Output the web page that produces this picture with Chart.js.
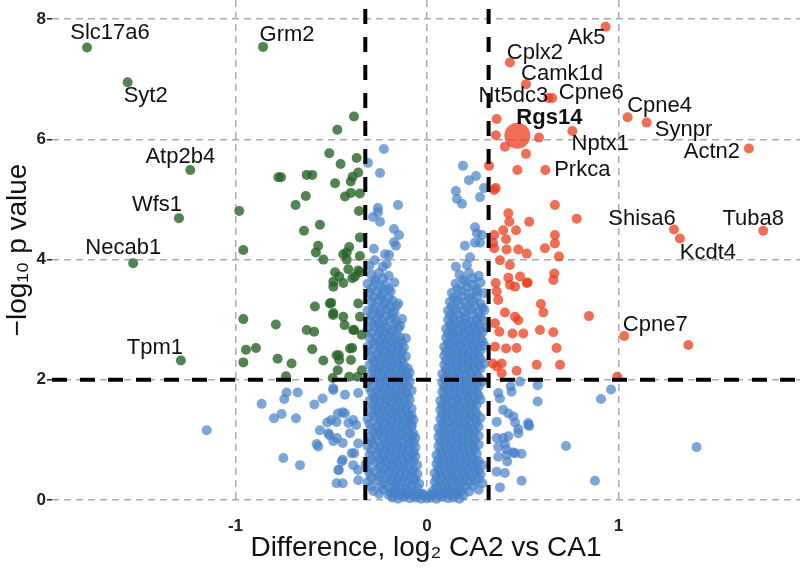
<!DOCTYPE html>
<html>
<head>
<meta charset="utf-8">
<script src="https://cdn.jsdelivr.net/npm/chart.js@4.4.1/dist/chart.umd.min.js"></script>
<style>
  html, body { margin: 0; padding: 0; background: #fff; }
</style>
</head>
<body>
<canvas id="volcano" width="800" height="574"></canvas>
<script>
// axis setup
const xTicks = [-1, 0, 1];
const yTicks = [0, 2, 4, 6, 8];
const xRange = [-1.958, 1.948];
const yRange = [0, 8.32];
const foldCut = 0.322;
const pCut = 2;

// labelled genes
const downGenes = ["Slc17a6", "Grm2", "Syt2", "Atp2b4", "Wfs1", "Necab1", "Tpm1"];
const downGeneX = [-1.775, -0.856, -1.563, -1.236, -1.295, -1.534, -1.285];
const downGeneY = [7.53, 7.54, 6.95, 5.49, 4.69, 3.94, 2.32];

const upGenes = ["Ak5", "Cplx2", "Camk1d", "Nt5dc3", "Cpne6", "Rgs14", "Cpne4", "Synpr",
                 "Actn2", "Nptx1", "Prkca", "Shisa6", "Kcdt4", "Tuba8", "Cpne7"];
const upGeneX = [0.933, 0.433, 0.517, 0.634, 0.654, 0.472, 1.048, 1.147,
                 1.681, 0.759, 0.618, 1.29, 1.321, 1.756, 1.030];
const upGeneY = [7.875, 7.28, 6.92, 6.69, 6.69, 6.06, 6.37, 6.28,
                 5.85, 6.14, 5.49, 4.50, 4.35, 4.48, 2.73];

// other significant genes, [log2 diff, -log10 p]
const downOther = [
  [-0.381,6.38],[-0.468,6.16],[-0.510,5.77],[-0.367,5.69],[-0.451,5.59],[-0.776,5.37],[-0.762,5.37],
  [-0.628,5.41],[-0.599,5.41],[-0.388,5.38],[-0.359,5.45],[-0.480,5.27],[-0.398,5.30],[-0.633,5.06],
  [-0.428,5.05],[-0.397,5.11],[-0.350,5.10],[-0.686,4.91],[-0.980,4.81],[-0.355,4.81],[-0.559,4.58],
  [-0.642,4.48],[-0.350,4.37],[-0.568,4.23],[-0.406,4.21],[-0.959,4.16],[-0.580,4.12],[-0.419,4.12],
  [-0.350,4.06],[-0.541,4.00],[-0.437,4.09],[-0.419,4.00],[-0.411,3.84],[-0.359,3.82],[-0.376,3.72],
  [-0.458,3.72],[-0.437,3.61],[-0.489,3.55],[-0.489,3.63],[-0.48,3.79],[-0.39,3.69],[-0.35,3.79],
  [-0.50,3.28],[-0.49,3.08],[-0.43,2.91],[-0.38,2.83],[-0.39,2.53],[-0.46,2.41],[-0.34,2.16],
  [-0.585,3.22],[-0.507,3.27],[-0.489,3.11],[-0.437,3.05],[-0.359,3.27],[-0.350,3.05],[-0.385,2.83],
  [-0.341,2.75],[-0.959,3.01],[-0.789,2.92],[-0.628,2.83],[-0.589,2.80],[-0.945,2.50],[-0.893,2.53],
  [-0.599,2.51],[-0.402,2.52],[-0.472,2.41],[-0.959,2.29],[-0.780,2.35],[-0.707,2.27],[-0.541,2.32],
  [-0.458,2.33],[-0.397,2.33],[-0.466,2.16],[-0.736,2.06],[-0.492,2.03],[-0.406,2.05],[-0.362,2.05]
];

const upOther = [
  [0.364,6.34],[0.360,6.07],[0.407,5.88],[0.517,5.76],[0.585,6.03],[0.324,5.56],[0.472,5.49],[0.359,5.19],
  [0.35,5.16],[0.668,4.91],[0.782,4.68],[0.425,4.77],[0.430,4.63],[0.534,4.63],[0.398,4.49],[0.465,4.49],
  [0.351,4.41],[0.345,4.28],[0.413,4.34],[0.668,4.41],[0.668,4.27],[0.616,4.19],[0.477,4.17],[0.416,4.17],
  [0.351,4.19],[0.521,4.10],[0.689,4.05],[0.381,3.99],[0.433,3.91],[0.486,3.72],[0.425,3.70],[0.665,3.77],
  [0.660,3.66],[0.359,3.61],[0.526,3.62],[0.46,3.55],[0.364,3.47],[0.372,3.33],[0.433,3.58],[0.521,3.61],
  [0.595,3.26],[0.608,3.12],[0.407,3.12],[0.460,3.05],[0.477,2.99],[0.846,3.06],[0.355,2.94],[0.378,2.80],
  [0.447,2.77],[0.503,2.77],[0.590,2.83],[0.660,2.79],[0.355,2.55],[0.413,2.52],[0.468,2.53],[0.677,2.53],
  [0.343,2.27],[0.390,2.27],[0.364,2.22],[0.468,2.15],[0.573,2.25],[0.695,2.25],[0.390,2.11],[1.365,2.58],
  [0.994,2.05]
];

// not significant genes
const notSig = [
  // sparse, upper part
  [-0.225,5.84],[-0.308,5.61],[-0.245,5.44],[-0.151,4.91],[-0.256,4.86],[-0.256,4.79],[-0.282,4.71],
  [-0.245,4.63],[-0.172,4.51],[-0.146,4.41],[-0.172,4.29],[-0.162,4.23],[-0.277,4.18],[-0.219,4.09],
  [-0.198,4.08],[-0.272,3.99],[-0.230,3.88],
  [0.188,5.56],[0.256,5.39],[0.219,5.32],[0.298,5.19],[0.151,5.14],[0.157,5.01],[0.183,4.93],[0.277,5.04],
  [0.251,4.54],[0.261,4.44],[0.287,4.41],[0.277,4.28],[0.198,4.23],[0.251,4.28],[0.225,4.04],[0.151,3.88],
  [0.209,3.91],
  // outer scatter, left
  [-1.150,1.16],[-0.863,1.60],[-0.799,1.36],[-0.759,1.43],[-0.733,1.79],[-0.745,1.68],[-0.675,1.79],
  [-0.684,1.36],[-0.750,0.70],[-0.663,0.58],[-0.588,1.59],[-0.545,1.69],[-0.489,1.83],[-0.559,1.16],
  [-0.521,1.29],[-0.510,1.08],[-0.576,0.93],[-0.568,0.89],[-0.489,0.98],[-0.463,0.50],[-0.472,0.28],
  [-0.465,1.44],[-0.472,1.30],[-0.445,0.64],[-0.515,1.11],[-0.428,1.44],[-0.402,1.11],[-0.385,1.33],
  [-0.359,1.78],[-0.428,1.75],[-0.393,0.78],[-0.385,0.58],[-0.359,0.33],[-0.359,0.94],[-0.49,1.86],
  [-0.44,1.46],[-0.41,1.28],[-0.47,1.03],[-0.44,0.95],[-0.44,0.67],[-0.46,0.50],[-0.44,0.28],
  [-0.38,0.78],[-0.36,0.50],[-0.37,1.25],[-0.50,1.33],
  // outer scatter, right
  [0.578,1.91],[0.578,1.64],[0.909,1.68],[0.961,1.84],[0.726,0.90],[1.408,0.88],[0.877,0.32],[0.494,0.32],
  [0.381,0.21],[0.407,0.45],[0.364,0.47],[0.494,0.77],[0.419,0.64],[0.416,0.75],[0.451,0.79],[0.416,0.84],
  [0.372,0.88],[0.407,0.93],[0.364,1.03],[0.398,1.03],[0.425,1.06],[0.477,1.11],[0.477,1.18],[0.529,1.28],
  [0.534,1.23],[0.460,1.29],[0.451,1.39],[0.425,1.44],[0.398,1.50],[0.364,1.30],[0.381,1.69],[0.372,1.78],
  [0.442,1.80],[0.437,1.89],[0.486,1.97],[0.529,1.25],[0.460,0.78],[0.372,0.72],
  // left arm
  [-0.18,0.04],[-0.15,0.02],[-0.12,0.05],[-0.09,0.03],[-0.06,0.04],[-0.03,0.02],[0.00,0.03],
  [-0.28,0.15],[-0.23,0.18],[-0.19,0.13],[-0.16,0.17],[-0.13,0.12],[-0.10,0.16],[-0.07,0.14],[-0.04,0.11],
  [-0.31,0.30],[-0.26,0.33],[-0.22,0.28],[-0.19,0.32],[-0.16,0.27],[-0.13,0.31],[-0.10,0.29],[-0.07,0.32],[-0.04,0.27],
  [-0.30,0.45],[-0.27,0.48],[-0.23,0.43],[-0.20,0.47],[-0.17,0.42],[-0.14,0.46],[-0.11,0.44],[-0.08,0.47],[-0.05,0.43],
  [-0.32,0.60],[-0.27,0.63],[-0.24,0.58],[-0.21,0.62],[-0.18,0.57],[-0.15,0.61],[-0.12,0.59],[-0.09,0.62],[-0.05,0.58],
  [-0.30,0.75],[-0.26,0.78],[-0.23,0.73],[-0.20,0.77],[-0.17,0.72],[-0.14,0.76],[-0.11,0.74],[-0.08,0.77],[-0.06,0.73],
  [-0.31,0.90],[-0.28,0.93],[-0.24,0.88],[-0.21,0.92],[-0.18,0.87],[-0.15,0.91],[-0.12,0.89],[-0.09,0.92],[-0.06,0.88],
  [-0.30,1.05],[-0.26,1.08],[-0.23,1.03],[-0.20,1.07],[-0.17,1.02],[-0.14,1.06],[-0.11,1.04],[-0.08,1.07],[-0.06,1.03],
  [-0.29,1.20],[-0.26,1.23],[-0.23,1.18],[-0.20,1.22],[-0.17,1.17],[-0.14,1.21],[-0.11,1.19],[-0.08,1.22],
  [-0.31,1.35],[-0.27,1.38],[-0.24,1.33],[-0.21,1.37],[-0.18,1.32],[-0.15,1.36],[-0.12,1.34],[-0.09,1.37],[-0.07,1.33],
  [-0.29,1.50],[-0.26,1.53],[-0.23,1.48],[-0.20,1.52],[-0.17,1.47],[-0.14,1.51],[-0.11,1.49],[-0.08,1.52],
  [-0.30,1.65],[-0.27,1.68],[-0.24,1.63],[-0.21,1.67],[-0.18,1.62],[-0.15,1.66],[-0.12,1.64],[-0.09,1.67],
  [-0.29,1.80],[-0.26,1.83],[-0.23,1.78],[-0.20,1.82],[-0.17,1.77],[-0.14,1.81],[-0.11,1.79],[-0.08,1.82],
  [-0.31,1.95],[-0.27,1.98],[-0.24,1.93],[-0.21,1.97],[-0.18,1.92],[-0.15,1.96],[-0.12,1.94],[-0.09,1.97],
  [-0.29,2.10],[-0.26,2.13],[-0.23,2.08],[-0.20,2.12],[-0.17,2.07],[-0.14,2.11],[-0.11,2.09],[-0.09,2.12],
  [-0.30,2.25],[-0.27,2.28],[-0.24,2.23],[-0.21,2.27],[-0.18,2.22],[-0.15,2.26],[-0.12,2.24],
  [-0.29,2.40],[-0.26,2.43],[-0.23,2.38],[-0.20,2.42],[-0.17,2.37],[-0.14,2.41],[-0.11,2.39],
  [-0.31,2.55],[-0.27,2.58],[-0.24,2.53],[-0.21,2.57],[-0.18,2.52],[-0.15,2.56],[-0.12,2.54],
  [-0.30,2.70],[-0.26,2.73],[-0.23,2.68],[-0.20,2.72],[-0.17,2.67],[-0.14,2.71],[-0.11,2.69],
  [-0.31,2.85],[-0.27,2.88],[-0.24,2.83],[-0.21,2.87],[-0.18,2.82],[-0.15,2.86],
  [-0.30,3.00],[-0.26,3.03],[-0.23,2.98],[-0.19,3.02],[-0.16,2.97],[-0.13,3.01],
  [-0.31,3.15],[-0.28,3.18],[-0.24,3.13],[-0.21,3.17],[-0.17,3.12],
  [-0.29,3.30],[-0.25,3.33],[-0.22,3.28],[-0.18,3.32],[-0.15,3.27],
  [-0.30,3.45],[-0.26,3.48],[-0.23,3.43],[-0.19,3.47],
  [-0.31,3.60],[-0.27,3.63],[-0.22,3.58],[-0.17,3.62],
  [-0.29,3.75],[-0.25,3.78],[-0.20,3.73],
  [-0.30,3.90],[-0.21,3.93],
  // left arm, in-between rows
  [-0.25,0.10],[-0.20,0.09],[-0.17,0.11],[-0.14,0.08],[-0.11,0.10],[-0.08,0.09],[-0.05,0.07],[-0.02,0.10],
  [-0.29,0.22],[-0.24,0.24],[-0.20,0.21],[-0.17,0.23],[-0.14,0.20],[-0.11,0.22],[-0.08,0.24],[-0.05,0.20],
  [-0.29,0.37],[-0.25,0.39],[-0.21,0.36],[-0.18,0.38],[-0.15,0.35],[-0.12,0.37],[-0.09,0.39],[-0.06,0.35],
  [-0.31,0.52],[-0.25,0.54],[-0.22,0.51],[-0.19,0.53],[-0.16,0.50],[-0.13,0.52],[-0.10,0.54],[-0.07,0.50],
  [-0.29,0.67],[-0.25,0.69],[-0.22,0.66],[-0.19,0.68],[-0.16,0.65],[-0.13,0.67],[-0.10,0.69],[-0.07,0.65],
  [-0.29,0.82],[-0.25,0.84],[-0.22,0.81],[-0.19,0.83],[-0.16,0.80],[-0.13,0.82],[-0.10,0.84],[-0.07,0.80],
  [-0.29,0.97],[-0.26,0.99],[-0.22,0.96],[-0.19,0.98],[-0.16,0.95],[-0.13,0.97],[-0.10,0.99],[-0.07,0.95],
  [-0.28,1.12],[-0.25,1.14],[-0.22,1.11],[-0.19,1.13],[-0.16,1.10],[-0.13,1.12],[-0.10,1.14],[-0.07,1.10],
  [-0.30,1.27],[-0.25,1.29],[-0.22,1.26],[-0.19,1.28],[-0.16,1.25],[-0.13,1.27],[-0.10,1.29],[-0.08,1.25],
  [-0.28,1.42],[-0.25,1.44],[-0.22,1.41],[-0.19,1.43],[-0.16,1.40],[-0.13,1.42],[-0.10,1.44],[-0.08,1.40],
  [-0.28,1.57],[-0.25,1.59],[-0.22,1.56],[-0.19,1.58],[-0.16,1.55],[-0.13,1.57],[-0.10,1.59],
  [-0.28,1.72],[-0.25,1.74],[-0.22,1.71],[-0.19,1.73],[-0.16,1.70],[-0.13,1.72],[-0.10,1.74],
  [-0.30,1.87],[-0.25,1.89],[-0.22,1.86],[-0.19,1.88],[-0.16,1.85],[-0.13,1.87],[-0.10,1.89],
  [-0.28,2.02],[-0.25,2.04],[-0.22,2.01],[-0.19,2.03],[-0.16,2.00],[-0.13,2.02],[-0.10,2.04],
  [-0.28,2.17],[-0.25,2.19],[-0.22,2.16],[-0.19,2.18],[-0.16,2.15],[-0.13,2.17],[-0.10,2.19],
  [-0.28,2.32],[-0.25,2.34],[-0.22,2.31],[-0.19,2.33],[-0.16,2.30],[-0.13,2.32],
  [-0.30,2.47],[-0.25,2.49],[-0.22,2.46],[-0.19,2.48],[-0.16,2.45],[-0.13,2.47],
  [-0.28,2.62],[-0.25,2.64],[-0.22,2.61],[-0.19,2.63],[-0.16,2.60],[-0.13,2.62],
  [-0.29,2.77],[-0.25,2.79],[-0.22,2.76],[-0.19,2.78],[-0.16,2.75],
  [-0.28,2.92],[-0.25,2.94],[-0.22,2.91],[-0.17,2.93],[-0.14,2.90],
  [-0.29,3.07],[-0.25,3.09],[-0.21,3.06],[-0.18,3.08],
  [-0.27,3.22],[-0.23,3.24],[-0.19,3.21],[-0.16,3.23],
  [-0.28,3.37],[-0.24,3.39],[-0.20,3.36],
  [-0.29,3.52],[-0.24,3.54],[-0.20,3.51],
  [-0.27,3.67],[-0.23,3.69],
  // right arm
  [0.02,0.04],[0.05,0.02],[0.08,0.05],[0.11,0.03],[0.14,0.04],[0.17,0.02],[-0.02,0.08],[0.02,0.09],
  [0.03,0.15],[0.06,0.18],[0.09,0.13],[0.12,0.17],[0.15,0.12],[0.18,0.16],[0.22,0.14],[0.27,0.17],
  [0.04,0.30],[0.07,0.33],[0.10,0.28],[0.13,0.32],[0.16,0.27],[0.19,0.31],[0.22,0.29],[0.25,0.32],[0.29,0.28],
  [0.04,0.45],[0.07,0.48],[0.10,0.43],[0.13,0.47],[0.16,0.42],[0.19,0.46],[0.22,0.44],[0.25,0.47],[0.28,0.43],
  [0.05,0.60],[0.08,0.63],[0.11,0.58],[0.14,0.62],[0.17,0.57],[0.20,0.61],[0.23,0.59],[0.26,0.62],[0.29,0.58],
  [0.05,0.75],[0.08,0.78],[0.11,0.73],[0.14,0.77],[0.17,0.72],[0.20,0.76],[0.23,0.74],[0.26,0.77],
  [0.06,0.90],[0.09,0.93],[0.12,0.88],[0.15,0.92],[0.18,0.87],[0.21,0.91],[0.24,0.89],[0.27,0.92],
  [0.06,1.05],[0.09,1.08],[0.12,1.03],[0.15,1.07],[0.18,1.02],[0.21,1.06],[0.24,1.04],[0.27,1.07],
  [0.06,1.20],[0.09,1.23],[0.12,1.18],[0.15,1.22],[0.18,1.17],[0.21,1.21],[0.24,1.19],[0.27,1.22],
  [0.07,1.35],[0.10,1.38],[0.13,1.33],[0.16,1.37],[0.19,1.32],[0.22,1.36],[0.25,1.34],[0.28,1.37],
  [0.07,1.50],[0.10,1.53],[0.13,1.48],[0.16,1.52],[0.19,1.47],[0.22,1.51],[0.25,1.49],
  [0.07,1.65],[0.10,1.68],[0.13,1.63],[0.16,1.67],[0.19,1.62],[0.22,1.66],[0.25,1.64],[0.28,1.67],
  [0.08,1.80],[0.11,1.83],[0.14,1.78],[0.17,1.82],[0.20,1.77],[0.23,1.81],[0.26,1.79],
  [0.08,1.95],[0.11,1.98],[0.14,1.93],[0.17,1.97],[0.20,1.92],[0.23,1.96],[0.26,1.94],[0.29,1.97],
  [0.08,2.10],[0.11,2.13],[0.14,2.08],[0.17,2.12],[0.20,2.07],[0.23,2.11],[0.26,2.09],
  [0.09,2.25],[0.12,2.28],[0.15,2.23],[0.18,2.27],[0.21,2.22],[0.24,2.26],[0.27,2.24],[0.30,2.27],
  [0.09,2.40],[0.12,2.43],[0.15,2.38],[0.18,2.42],[0.21,2.37],[0.24,2.41],[0.27,2.39],
  [0.09,2.55],[0.12,2.58],[0.15,2.53],[0.18,2.57],[0.21,2.52],[0.24,2.56],[0.27,2.54],[0.30,2.57],
  [0.10,2.70],[0.13,2.73],[0.16,2.68],[0.19,2.72],[0.22,2.67],[0.25,2.71],[0.28,2.69],
  [0.10,2.85],[0.13,2.88],[0.16,2.83],[0.19,2.87],[0.22,2.82],[0.25,2.86],[0.28,2.84],[0.31,2.87],
  [0.11,3.00],[0.14,3.03],[0.17,2.98],[0.20,3.02],[0.23,2.97],[0.26,3.01],[0.29,2.99],
  [0.11,3.15],[0.15,3.18],[0.19,3.13],[0.23,3.17],[0.27,3.12],[0.30,3.16],
  [0.12,3.30],[0.16,3.33],[0.20,3.28],[0.24,3.32],[0.28,3.27],
  [0.13,3.45],[0.18,3.48],[0.22,3.43],[0.26,3.47],[0.30,3.44],
  [0.15,3.60],[0.20,3.63],[0.24,3.58],[0.28,3.62],
  [0.17,3.75],[0.22,3.78],[0.27,3.73],
  // right arm, in-between rows
  [0.04,0.10],[0.07,0.08],[0.10,0.11],[0.13,0.09],[0.16,0.10],[0.19,0.08],
  [0.05,0.22],[0.08,0.24],[0.11,0.21],[0.14,0.23],[0.17,0.20],[0.20,0.22],[0.24,0.24],
  [0.05,0.37],[0.08,0.39],[0.11,0.36],[0.14,0.38],[0.17,0.35],[0.20,0.37],[0.23,0.39],[0.27,0.35],
  [0.06,0.52],[0.09,0.54],[0.12,0.51],[0.15,0.53],[0.18,0.50],[0.21,0.52],[0.24,0.54],[0.27,0.50],
  [0.06,0.67],[0.09,0.69],[0.12,0.66],[0.15,0.68],[0.18,0.65],[0.21,0.67],[0.24,0.69],[0.27,0.65],
  [0.07,0.82],[0.10,0.84],[0.13,0.81],[0.16,0.83],[0.19,0.80],[0.22,0.82],[0.25,0.84],
  [0.07,0.97],[0.10,0.99],[0.13,0.96],[0.16,0.98],[0.19,0.95],[0.22,0.97],[0.25,0.99],
  [0.07,1.12],[0.10,1.14],[0.13,1.11],[0.16,1.13],[0.19,1.10],[0.22,1.12],[0.25,1.14],
  [0.08,1.27],[0.11,1.29],[0.14,1.26],[0.17,1.28],[0.20,1.25],[0.23,1.27],[0.26,1.29],
  [0.08,1.42],[0.11,1.44],[0.14,1.41],[0.17,1.43],[0.20,1.40],[0.23,1.42],[0.26,1.44],
  [0.08,1.57],[0.11,1.59],[0.14,1.56],[0.17,1.58],[0.20,1.55],[0.23,1.57],[0.26,1.59],
  [0.09,1.72],[0.12,1.74],[0.15,1.71],[0.18,1.73],[0.21,1.70],[0.24,1.72],[0.27,1.74],
  [0.09,1.87],[0.12,1.89],[0.15,1.86],[0.18,1.88],[0.21,1.85],[0.24,1.87],[0.27,1.89],
  [0.09,2.02],[0.12,2.04],[0.15,2.01],[0.18,2.03],[0.21,2.00],[0.24,2.02],[0.27,2.04],
  [0.10,2.17],[0.13,2.19],[0.16,2.16],[0.19,2.18],[0.22,2.15],[0.25,2.17],[0.28,2.19],
  [0.10,2.32],[0.13,2.34],[0.16,2.31],[0.19,2.33],[0.22,2.30],[0.25,2.32],[0.28,2.34],
  [0.10,2.47],[0.13,2.49],[0.16,2.46],[0.19,2.48],[0.22,2.45],[0.25,2.47],[0.28,2.49],
  [0.11,2.62],[0.14,2.64],[0.17,2.61],[0.20,2.63],[0.23,2.60],[0.26,2.62],[0.29,2.64],
  [0.11,2.77],[0.14,2.79],[0.17,2.76],[0.20,2.78],[0.23,2.75],[0.26,2.77],[0.29,2.79],
  [0.12,2.92],[0.15,2.94],[0.18,2.91],[0.21,2.93],[0.24,2.90],[0.27,2.92],
  [0.12,3.07],[0.16,3.09],[0.20,3.06],[0.24,3.08],[0.28,3.05],
  [0.13,3.22],[0.17,3.24],[0.21,3.21],[0.25,3.23],[0.29,3.20],
  [0.14,3.37],[0.18,3.39],[0.22,3.36],[0.26,3.38],
  [0.16,3.52],[0.21,3.54],[0.26,3.51],
  [0.19,3.67],[0.24,3.69]
];

// label placement (pixel offset of text centre from its point)
const labelOffset = {
  Slc17a6: [23, -15], Grm2: [24, -12], Syt2: [18, 14], Atp2b4: [-10, -13], Wfs1: [-22, -13],
  Necab1: [-10, -15], Tpm1: [-26, -13], Ak5: [-19, 11], Cplx2: [25, -10], Camk1d: [36, -10],
  Nt5dc3: [-35, -2], Cpne6: [39, -5], Rgs14: [32, -18], Cpne4: [32, -11], Synpr: [37, 7],
  Actn2: [-37, 3], Nptx1: [28, 13], Prkca: [37, 0], Shisa6: [-32, -11], Kcdt4: [28, 14],
  Tuba8: [-10, -12], Cpne7: [31, -11]
};

const FONT = '"Liberation Sans", Arial, Helvetica, sans-serif';
Chart.defaults.font.family = FONT;
Chart.defaults.color = '#111';

const pairs = arr => arr.map(([x, y]) => ({ x, y }));
const named = (names, xs, ys) => names.map((n, i) => ({ x: xs[i], y: ys[i], gene: n }));

const geneLabels = {
  id: 'geneLabels',
  afterDatasetsDraw(chart) {
    const { ctx, scales: { x, y } } = chart;
    ctx.save();
    ctx.textAlign = 'center';
    ctx.textBaseline = 'middle';
    ctx.fillStyle = '#111';
    const draw = (names, xs, ys) => names.forEach((n, i) => {
      const off = labelOffset[n];
      ctx.font = (n === 'Rgs14' ? 'bold ' : '') + '22px ' + FONT;
      ctx.fillText(n, x.getPixelForValue(xs[i]) + off[0], y.getPixelForValue(ys[i]) + off[1]);
    });
    draw(downGenes, downGeneX, downGeneY);
    draw(upGenes, upGeneX, upGeneY);
    ctx.restore();
  }
};

const cutLine = (data) => ({
  type: 'line', data, borderColor: '#000', borderWidth: 4, borderDash: [15, 13],
  pointRadius: 0, fill: false, order: 0, clip: false
});

new Chart(document.getElementById('volcano'), {
  type: 'scatter',
  data: {
    datasets: [
      cutLine([{ x: -foldCut, y: yRange[0] }, { x: -foldCut, y: yRange[1] }]),
      cutLine([{ x: foldCut, y: yRange[0] }, { x: foldCut, y: yRange[1] }]),
      cutLine([{ x: xRange[0], y: pCut }, { x: xRange[1], y: pCut }]),
      {
        label: 'not significant', data: pairs(notSig),
        backgroundColor: 'rgba(70,128,200,0.7)', pointRadius: 5, borderWidth: 0, order: 3, clip: false
      },
      {
        label: 'CA1 enriched', data: pairs(downOther).concat(named(downGenes, downGeneX, downGeneY)),
        backgroundColor: 'rgba(40,100,40,0.8)', pointRadius: 5, borderWidth: 0, order: 2, clip: false
      },
      {
        label: 'CA2 enriched', data: pairs(upOther).concat(named(upGenes, upGeneX, upGeneY)),
        backgroundColor: 'rgba(235,60,30,0.75)', borderWidth: 0, order: 1, clip: false,
        pointRadius: c => (c.raw && c.raw.gene === 'Rgs14' ? 13 : 5)
      }
    ]
  },
  options: {
    responsive: false,
    animation: false,
    layout: { padding: 0, autoPadding: false },
    plugins: { legend: { display: false }, tooltip: { enabled: false } },
    scales: {
      x: {
        type: 'linear', min: xRange[0], max: xRange[1],
        afterBuildTicks: s => { s.ticks = xTicks.map(v => ({ value: v })); },
        afterFit: s => { s.height = 74; },
        grid: { color: '#aaa', lineWidth: 1.5, drawTicks: false },
        border: { display: false, dash: [7, 5] },
        ticks: { font: { size: 17, weight: 'bold' }, color: '#222', padding: 16, maxRotation: 0 },
        title: {
          display: true, text: 'Difference, log\u2082 CA2 vs CA1',
          font: { size: 28, lineHeight: 1.2 }, color: '#111', padding: { top: 0, bottom: 9 }
        }
      },
      y: {
        type: 'linear', min: yRange[0], max: yRange[1],
        afterBuildTicks: s => { s.ticks = yTicks.map(v => ({ value: v })); },
        // fixed width, and no extra room above the top tick label
        afterFit: s => { s.width = 52; s.paddingTop = 0; },
        grid: {
          color: '#aaa', lineWidth: 1.5, tickColor: '#222', tickLength: 5, tickWidth: 1.5,
          tickBorderDash: []
        },
        border: { display: false, dash: [7, 5] },
        ticks: { font: { size: 17, weight: 'bold' }, color: '#222', padding: 1 },
        title: {
          display: true, text: '\u2212log\u2081\u2080 p value',
          font: { size: 28, lineHeight: 1.2 }, color: '#111', padding: { top: 1, bottom: 0 }
        }
      }
    }
  },
  plugins: [geneLabels]
});
</script>
</body>
</html>
